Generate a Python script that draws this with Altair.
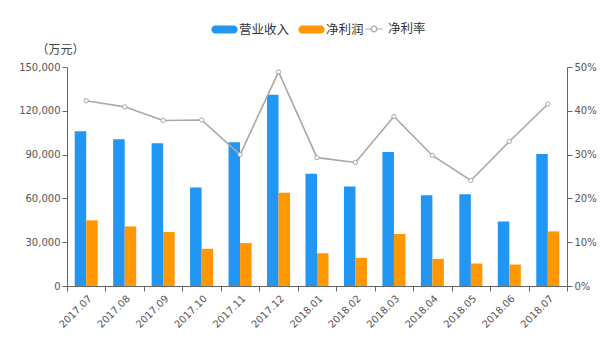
import altair as alt
import pandas as pd

months = ["2017.07", "2017.08", "2017.09", "2017.10", "2017.11", "2017.12",
          "2018.01", "2018.02", "2018.03", "2018.04", "2018.05", "2018.06", "2018.07"]
revenue = [106000, 100500, 97800, 67500, 98500, 131000, 76900, 68200, 91800, 62200, 62900, 44100, 90400]
profit = [45000, 40800, 37000, 25500, 29400, 63800, 22500, 19300, 35600, 18600, 15400, 14700, 37400]
rate = [0.423, 0.409, 0.378, 0.379, 0.300, 0.489, 0.293, 0.282, 0.387, 0.298, 0.241, 0.330, 0.415]

series_names = ["营业收入", "净利润", "净利率"]
bar_colors = ["#2196F3", "#FF9800"]
line_color = "#A8A8A8"

bars_df = pd.DataFrame(
    [{"month": m, "series": series_names[0], "value": v} for m, v in zip(months, revenue)]
    + [{"month": m, "series": series_names[1], "value": v} for m, v in zip(months, profit)]
)
rate_df = pd.DataFrame({"month": months, "rate": rate, "series": series_names[2]})

FONT = "DejaVu Sans"
CJK = "Noto Sans CJK SC"

x_enc = alt.X(
    "month:N", sort=months, title=None,
    scale=alt.Scale(paddingInner=0, paddingOuter=0),
    axis=alt.Axis(labelAngle=-45, tickBand="extent", labelColor="#555555",
                  labelFont=FONT, labelFontSize=10, domainColor="#666666",
                  tickColor="#666666", tickSize=5, labelPadding=2),
)

bars = alt.Chart(bars_df).mark_bar().encode(
    x=x_enc,
    xOffset=alt.XOffset("series:N", sort=series_names[:2],
                        scale=alt.Scale(paddingInner=0, paddingOuter=0.67)),
    y=alt.Y("value:Q", scale=alt.Scale(domain=[0, 150000]),
            axis=alt.Axis(values=[0, 30000, 60000, 90000, 120000, 150000], format=",d",
                          title="（万元）", titleAngle=0, titleY=-18, titleX=-7,
                          titleAlign="center", titleBaseline="middle",
                          titleFont=CJK, titleFontSize=12, titleFontWeight="normal",
                          titleColor="#444444", grid=False, labelColor="#555555",
                          labelFont=FONT, labelFontSize=10, domainColor="#666666",
                          tickColor="#666666", tickSize=5)),
    color=alt.Color("series:N", sort=series_names[:2],
                    scale=alt.Scale(domain=series_names[:2], range=bar_colors),
                    legend=alt.Legend(orient="none", legendX=149, legendY=-46,
                                      title=None, direction="horizontal",
                                      symbolType="M-1.1,-0.5H1.1A0.25,0.25,0,0,1,1.1,0.5H-1.1A0.25,0.25,0,0,1,-1.1,-0.5Z",
                                      symbolSize=270, labelFont=CJK, labelFontSize=12.5,
                                      labelColor="#333333", symbolStrokeWidth=0,
                                      columnPadding=8, labelOffset=6)),
)

y2 = alt.Y("rate:Q", scale=alt.Scale(domain=[0, 0.5]),
           axis=alt.Axis(orient="right", values=[0, 0.1, 0.2, 0.3, 0.4, 0.5], format=".0%",
                         title=None, grid=False, labelColor="#555555", labelFont=FONT,
                         labelFontSize=10, domainColor="#666666", tickColor="#666666",
                         tickSize=5))

line = alt.Chart(rate_df).mark_line(strokeWidth=1.6).encode(
    x=alt.X("month:N", sort=months),
    y=y2,
    stroke=alt.Stroke("series:N", scale=alt.Scale(domain=[series_names[2]], range=[line_color]),
                      legend=alt.Legend(orient="none", legendX=299, legendY=-46, title=None,
                                        symbolType="M-1.2,0H-0.4M0.4,0H1.2M0.4,0A0.4,0.4,0,1,1,-0.4,0A0.4,0.4,0,1,1,0.4,0Z",
                                        symbolSize=200, symbolStrokeWidth=1.2,
                                        symbolFillColor="white",
                                        labelFont=CJK, labelFontSize=12.5,
                                        labelColor="#333333", labelOffset=6)),
)

points = alt.Chart(rate_df).mark_point(filled=True, fill="white", stroke=line_color,
                                       strokeWidth=1, size=18, opacity=1).encode(
    x=alt.X("month:N", sort=months),
    y=y2,
)

right = alt.layer(line, points)

chart = alt.layer(bars, right).resolve_scale(y="independent").properties(
    width=500, height=219,
    autosize=alt.AutoSizeParams(type="none"),
    padding={"left": 67, "top": 67, "right": 43, "bottom": 65},
).configure_view(stroke=None)

chart.save("out.html", embed_options={"renderer": "svg", "actions": False})
